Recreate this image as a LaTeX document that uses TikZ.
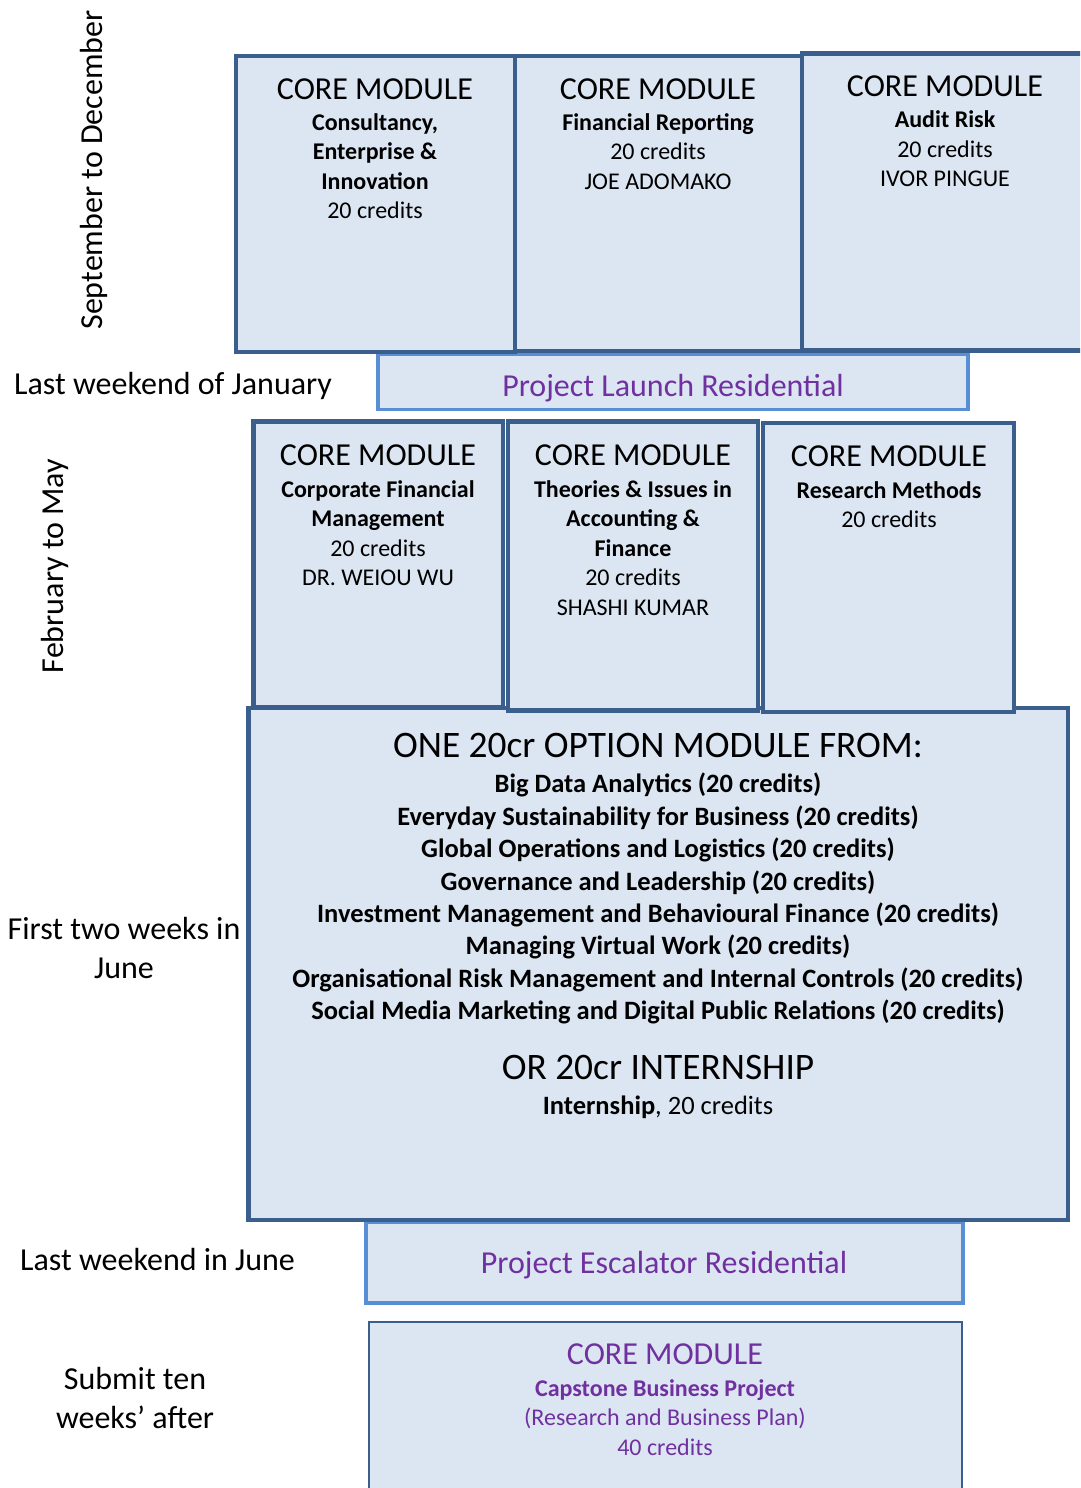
\documentclass[tikz,border=0pt]{standalone}
\usepackage{fontspec}
\setmainfont{Carlito}
\definecolor{dkb}{RGB}{58,95,140}
\definecolor{boxfill}{RGB}{220,230,242}
\definecolor{ltb}{RGB}{88,143,212}
\definecolor{purp}{RGB}{112,48,160}
\newcommand\cmodhead{{\fontsize{32}{33}\selectfont CORE MODULE}}
\tikzset{
  modbox/.style={draw=dkb, line width=4.5pt, fill=boxfill, inner sep=0pt, rectangle},
  resbox/.style={draw=ltb, line width=3.5pt, fill=boxfill, inner sep=0pt, rectangle},
  capbox/.style={draw=dkb, line width=2.5pt, fill=boxfill, inner sep=0pt, rectangle},
  modtxt/.style={align=center, inner sep=0pt, anchor=north, font=\fontsize{24}{29.5}\selectfont},
  sidetxt/.style={inner sep=0pt, font=\fontsize{32}{38.8}\selectfont},
  restxt/.style={inner sep=0pt, anchor=base, text=purp, font=\fontsize{32}{38.8}\selectfont},
}
\begin{document}
\begin{tikzpicture}[x=1pt,y=-1pt]
\clip (0,0) rectangle (1080,1488);
\fill[white] (0,0) rectangle (1080,1488);

% ---- residentials drawn first (under module boxes)
\node[resbox, minimum width=590pt, minimum height=55pt] (launch) at (673,382) {};
\node[restxt] (launchT) at (673,396) {Project Launch Residential};

% ---- top row
\node[modbox, minimum width=279pt, minimum height=296pt] (m1) at (375.5,204) {};
\node[modbox, minimum width=287pt, minimum height=295pt] (m2) at (658.5,203.5) {};
\node[modbox, minimum width=288pt, minimum height=297pt] (m3) at (946,202) {};
\node[modtxt] (m1t) at (375,78.5) {\cmodhead\\[1.2pt]\textbf{Consultancy,}\\\textbf{Enterprise \&}\\\textbf{Innovation}\\20 credits};
\node[modtxt] (m2t) at (658,78.5) {\cmodhead\\[1.2pt]\textbf{Financial Reporting}\\20 credits\\JOE ADOMAKO};
\node[modtxt] (m3t) at (945,75.5) {\cmodhead\\[1.8pt]\textbf{Audit Risk}\\20 credits\\IVOR PINGUE};

% ---- option box and escalator
\node[resbox, minimum width=597pt, minimum height=81pt] (esc) at (664.5,1262.5) {};
\node[restxt] (escT) at (664,1273) {Project Escalator Residential};
\node[modbox, minimum width=819.5pt, minimum height=512pt] (opt) at (658,964) {};

% ---- middle row
\node[modbox, minimum width=249.5pt, minimum height=285.5pt] (m4) at (378,564) {};
\node[modbox, minimum width=250pt, minimum height=289pt] (m5) at (633,566) {};
\node[modbox, minimum width=251pt, minimum height=289pt] (m6) at (888.5,567.5) {};
\node[modtxt] (m4t) at (378,444.5) {\cmodhead\\[2.2pt]\textbf{Corporate Financial}\\\textbf{Management}\\20 credits\\DR. WEIOU WU};
\node[modtxt] (m5t) at (633,444.5) {\cmodhead\\[2.2pt]\textbf{Theories \& Issues in}\\\textbf{Accounting \&}\\\textbf{Finance}\\20 credits\\SHASHI KUMAR};
\node[modtxt] (m6t) at (889,445.5) {\cmodhead\\[2.2pt]\textbf{Research Methods}\\20 credits};

% ---- option text
\node[modtxt, font=\fontsize{26.5}{32.4}\selectfont\bfseries] (optT) at (658,733)
 {{\mdseries\fontsize{37.4}{40}\selectfont ONE 20cr OPTION MODULE FROM:}\\[3.1pt]
  Big Data Analytics (20 credits)\\
  Everyday Sustainability for Business (20 credits)\\
  Global Operations and Logistics (20 credits)\\
  Governance and Leadership (20 credits)\\
  Investment Management and Behavioural Finance (20 credits)\\
  Managing Virtual Work (20 credits)\\
  Organisational Risk Management and Internal Controls (20 credits)\\
  Social Media Marketing and Digital Public Relations (20 credits)\\[27.1pt]
  {\mdseries\fontsize{37.4}{40}\selectfont OR 20cr INTERNSHIP}\\[2.6pt]
  {\mdseries\textbf{Internship}, 20 credits}};

% ---- capstone
\node[capbox, minimum width=593pt, minimum height=190pt] (cap) at (665.5,1417) {};
\node[modtxt, text=purp] (capT) at (665,1343.5) {\cmodhead\\[2.2pt]\textbf{Capstone Business Project}\\(Research and Business Plan)\\40 credits};

% ---- side labels
\node[sidetxt, rotate=90] (lSep) at (94,170) {September to December};
\node[sidetxt, anchor=base west] (lJan) at (14,394) {Last weekend of January};
\node[sidetxt, rotate=90] (lFeb) at (55,566) {February to May};
\node[sidetxt, align=center, anchor=north] (lJun) at (124,917) {First two weeks in\\June};
\node[sidetxt, anchor=base west] (lLast) at (20,1270) {Last weekend in June};
\node[sidetxt, align=center, anchor=north] (lSub) at (135,1367) {Submit ten\\weeks’ after};
\end{tikzpicture}
\end{document}
